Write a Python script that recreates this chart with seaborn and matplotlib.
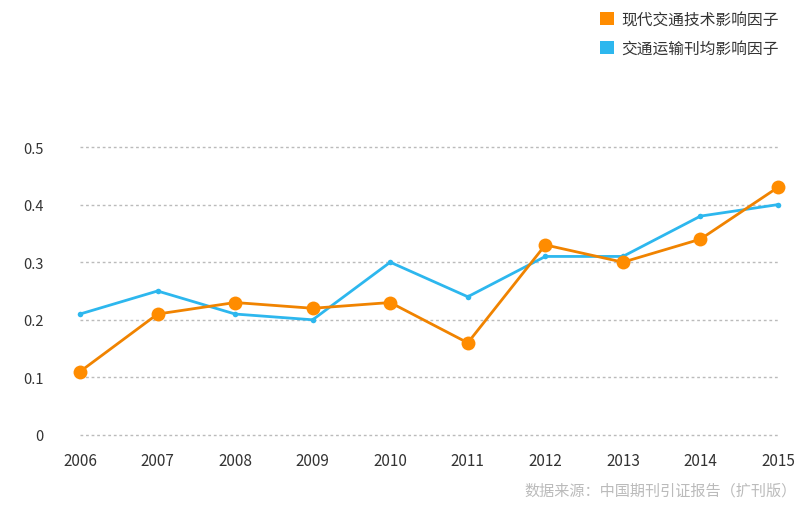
import matplotlib
matplotlib.use("Agg")
import matplotlib.pyplot as plt
import seaborn as sns
import pandas as pd
from matplotlib.patches import Patch

years = [2006, 2007, 2008, 2009, 2010, 2011, 2012, 2013, 2014, 2015]
tech = [0.11, 0.21, 0.23, 0.22, 0.23, 0.16, 0.33, 0.30, 0.34, 0.43]
journal = [0.21, 0.25, 0.21, 0.20, 0.30, 0.24, 0.31, 0.31, 0.38, 0.40]
series_names = ["现代交通技术影响因子", "交通运输刊均影响因子"]
yticks = [0, 0.1, 0.2, 0.3, 0.4, 0.5]
ytick_labels = ["0", "0.1", "0.2", "0.3", "0.4", "0.5"]
source = "数据来源：中国期刊引证报告（扩刊版）"

sns.set_theme(style="white")
plt.rcParams['font.family'] = ['Noto Sans CJK SC', 'DejaVu Sans']

orange_line = "#F08300"
orange_mk = "#FF8C00"
blue = "#2DB7EE"

fig = plt.figure(figsize=(8.06, 5.06), dpi=100)
ax = fig.add_axes([80/806, 1-436/506, (778-80)/806, (436-148)/506])

df1 = pd.DataFrame({"year": years, "v": tech})
df2 = pd.DataFrame({"year": years, "v": journal})

sns.lineplot(data=df2, x="year", y="v", ax=ax, color=blue, lw=2.0,
             marker="o", markersize=4, markeredgewidth=0, markerfacecolor=blue,
             clip_on=False, zorder=3)
sns.lineplot(data=df1, x="year", y="v", ax=ax, color=orange_line, lw=2.0,
             marker="o", markersize=10, markeredgewidth=0, markerfacecolor=orange_mk,
             clip_on=False, zorder=4)

ax.set_xlim(2006, 2015)
ax.set_ylim(0, 0.5)
ax.set_xticks(years)
ax.set_xticklabels([str(y) for y in years])
ax.set_yticks(yticks)
ax.set_yticklabels(ytick_labels)
ax.set_xlabel("")
ax.set_ylabel("")
for s in ax.spines.values():
    s.set_visible(False)
ax.grid(axis="y", color="#BBBBBB", linestyle=(0, (2, 2)), linewidth=1.0)
ax.grid(axis="x", visible=False)
for gl in ax.get_ygridlines():
    gl.set_clip_on(False)
ax.tick_params(axis="y", length=0, pad=26, labelsize=10.5, labelcolor="#333333")
ax.tick_params(axis="x", length=0, pad=12, labelsize=11, labelcolor="#333333")
for lab in ax.get_yticklabels():
    lab.set_horizontalalignment("right")

handles = [Patch(facecolor=orange_mk, edgecolor="none"), Patch(facecolor=blue, edgecolor="none")]
fig.legend(handles, series_names, loc="upper left", bbox_to_anchor=(586/806, 1+2/506),
           frameon=False, fontsize=11.3, handlelength=0.9, handleheight=0.9,
           handletextpad=0.45, labelspacing=0.75, labelcolor="#333333")

fig.text(797/806, 1-491/506, source, ha="right", va="center", fontsize=10.9, color="#BBBBBB")

fig.savefig("out.png", dpi=100)
